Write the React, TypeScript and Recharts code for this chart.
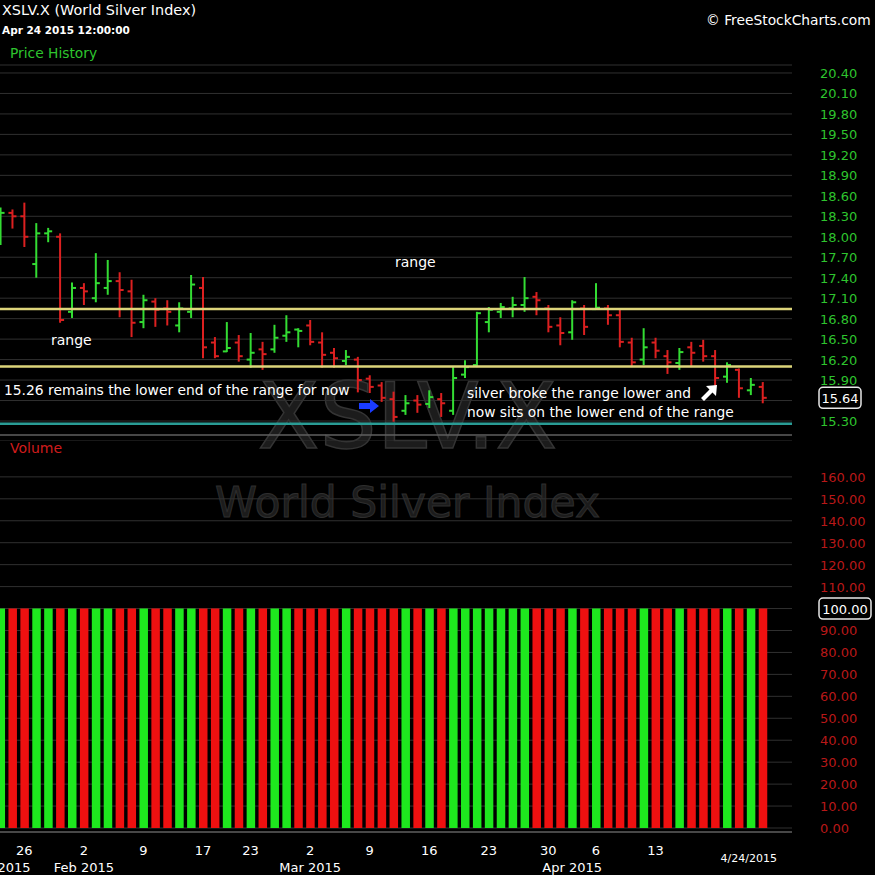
import React from "react";
import {
  ComposedChart,
  Bar,
  XAxis,
  YAxis,
  CartesianGrid,
  ReferenceLine,
  Cell
} from "recharts";

// trading days, Jan 22 2015 .. Apr 24 2015
const dates = [
  "2015-01-22", "2015-01-23", "2015-01-26", "2015-01-27", "2015-01-28", "2015-01-29", "2015-01-30",
  "2015-02-02", "2015-02-03", "2015-02-04", "2015-02-05", "2015-02-06",
  "2015-02-09", "2015-02-10", "2015-02-11", "2015-02-12", "2015-02-13",
  "2015-02-17", "2015-02-18", "2015-02-19", "2015-02-20",
  "2015-02-23", "2015-02-24", "2015-02-25", "2015-02-26", "2015-02-27",
  "2015-03-02", "2015-03-03", "2015-03-04", "2015-03-05", "2015-03-06",
  "2015-03-09", "2015-03-10", "2015-03-11", "2015-03-12", "2015-03-13",
  "2015-03-16", "2015-03-17", "2015-03-18", "2015-03-19", "2015-03-20",
  "2015-03-23", "2015-03-24", "2015-03-25", "2015-03-26", "2015-03-27",
  "2015-03-30", "2015-03-31", "2015-04-01", "2015-04-02",
  "2015-04-06", "2015-04-07", "2015-04-08", "2015-04-09", "2015-04-10",
  "2015-04-13", "2015-04-14", "2015-04-15", "2015-04-16", "2015-04-17",
  "2015-04-20", "2015-04-21", "2015-04-22", "2015-04-23", "2015-04-24"
];

const opens = [
  18.00, 18.35, 18.30, 17.60, 18.05, 18.00, 16.90,
  17.25, 17.10, 17.25, 17.35, 17.20,
  16.75, 17.05, 16.95, 16.70, 16.90,
  17.25, 16.45, 16.32, 16.45,
  16.20, 16.35, 16.35, 16.55, 16.64,
  16.70, 16.45, 16.30, 16.18, 16.20,
  15.92, 15.82, 15.62, 15.45, 15.60,
  15.55, 15.62, 15.45, 15.98, 16.12,
  16.75, 16.90, 16.95, 17.00, 17.12,
  16.95, 16.70, 16.60, 16.95,
  16.94, 16.95, 16.85, 16.45, 16.20,
  16.45, 16.25, 16.15, 16.38, 16.40,
  16.25, 15.95, 16.05, 15.75, 15.80
];

const highs = [
  18.43, 18.40, 18.50, 18.20, 18.13, 18.05, 17.33,
  17.32, 17.76, 17.66, 17.48, 17.37,
  17.15, 17.10, 17.07, 17.04, 17.44,
  17.41, 16.53, 16.75, 16.56,
  16.59, 16.46, 16.71, 16.85, 16.66,
  16.78, 16.60, 16.37, 16.34, 16.24,
  15.97, 15.87, 15.73, 15.68, 15.68,
  15.75, 15.71, 16.09, 16.19, 16.90,
  16.97, 17.03, 17.12, 17.41, 17.19,
  17.00, 16.82, 17.07, 17.00,
  17.32, 17.00, 16.93, 16.52, 16.66,
  16.52, 16.34, 16.37, 16.46, 16.49,
  16.34, 16.16, 16.07, 15.93, 15.87
];

const lows = [
  17.88, 18.12, 17.85, 17.40, 17.92, 16.74, 16.81,
  17.00, 17.04, 17.15, 16.82, 16.53,
  16.66, 16.68, 16.70, 16.60, 16.81,
  16.22, 16.22, 16.31, 16.17,
  16.08, 16.05, 16.30, 16.46, 16.38,
  16.41, 16.08, 16.08, 16.12, 15.72,
  15.71, 15.58, 15.29, 15.39, 15.42,
  15.49, 15.36, 15.39, 15.93, 16.09,
  16.60, 16.81, 16.82, 16.90, 16.85,
  16.60, 16.41, 16.49, 16.56,
  16.93, 16.71, 16.38, 16.09, 16.12,
  16.22, 15.99, 16.05, 16.09, 16.17,
  15.80, 15.86, 15.64, 15.68, 15.56
];

const closes = [
  18.35, 18.30, 18.00, 18.05, 18.08, 16.78, 17.25,
  17.20, 17.32, 17.35, 17.22, 16.74,
  17.07, 16.93, 16.90, 16.95, 17.30,
  16.38, 16.25, 16.37, 16.25,
  16.30, 16.28, 16.52, 16.60, 16.62,
  16.46, 16.27, 16.22, 16.24, 15.90,
  15.80, 15.64, 15.36, 15.56, 15.54,
  15.65, 15.56, 15.93, 16.09, 16.88,
  16.93, 16.97, 17.00, 17.10, 17.07,
  16.68, 16.59, 17.04, 16.68,
  16.96, 16.85, 16.46, 16.16, 16.38,
  16.33, 16.16, 16.31, 16.30, 16.25,
  15.93, 16.12, 15.78, 15.83, 15.64
];

const volumes = [
  100, 100, 100, 100, 100, 100, 100, 100, 100, 100, 100, 100, 100,
  100, 100, 100, 100, 100, 100, 100, 100, 100, 100, 100, 100, 100,
  100, 100, 100, 100, 100, 100, 100, 100, 100, 100, 100, 100, 100,
  100, 100, 100, 100, 100, 100, 100, 100, 100, 100, 100, 100, 100,
  100, 100, 100, 100, 100, 100, 100, 100, 100, 100, 100, 100, 100
];

const priceTicks = [
  15.3, 15.6, 15.9, 16.2, 16.5, 16.8, 17.1, 17.4, 17.7,
  18.0, 18.3, 18.6, 18.9, 19.2, 19.5, 19.8, 20.1, 20.4
];
const volumeTicks = [0, 10, 20, 30, 40, 50, 60, 70, 80, 90, 100, 110, 120, 130, 140, 150, 160];

// week starts (index in dates, 65 = next monday)
const weekGrid = [2, 7, 12, 17, 21, 26, 31, 36, 41, 46, 50, 55, 60, 65];
const dayLabels: [number, string][] = [
  [2, "26"], [7, "2"], [12, "9"], [17, "17"], [21, "23"], [26, "2"],
  [31, "9"], [36, "16"], [41, "23"], [46, "30"], [50, "6"], [55, "13"]
];
const monthLabels: [number, string][] = [
  [0, "Jan 2015"], [7, "Feb 2015"], [26, "Mar 2015"], [48, "Apr 2015"]
];
const lastDateLabel = "4/24/2015";

const rangeLevels = [16.94, 16.10];
const supportLevel = 15.26;

const GREEN = "#33dc33";
const RED = "#dc2020";
const VOL_GREEN = "#1ee81e";
const VOL_RED = "#ee1010";
const FONT = "'DejaVu Sans', Verdana, sans-serif";

const rows = dates.map((d, i) => ({
  i,
  date: d,
  open: opens[i],
  high: highs[i],
  low: lows[i],
  close: closes[i],
  range: [lows[i], highs[i]],
  volume: volumes[i],
  up: i === 0 ? closes[i] >= opens[i] : closes[i] >= closes[i - 1],
  volUp: closes[i] >= opens[i]
}));

const lastIndex = rows.length - 1;
const lastClose = closes[lastIndex];
const lastVolume = volumes[lastIndex];
const xDomain = [-0.042, 66.46];

const dayMap = new Map(dayLabels);
const monthMap = new Map(monthLabels);
const dateTicks = Array.from(
  new Set([...dayLabels.map(d => d[0]), ...monthLabels.map(m => m[0]), lastIndex])
).sort((a, b) => a - b);

const OhlcShape = (props: any) => {
  const {x, y, width, height, payload} = props;
  const top = Math.min(y, y + height);
  const h = Math.abs(height);
  const cx = x + width / 2;
  const ppu = h / (payload.high - payload.low || 1);
  const oy = top + (payload.high - payload.open) * ppu;
  const cy = top + (payload.high - payload.close) * ppu;
  const c = payload.up ? GREEN : RED;
  return (
    <g stroke={c} strokeWidth={2}>
      <line x1={cx} x2={cx} y1={top} y2={top + h}/>
      <line x1={cx - 4} x2={cx} y1={oy} y2={oy}/>
      <line x1={cx} x2={cx + 4} y1={cy} y2={cy}/>
    </g>
  );
};

const gridX = (props: any) => {
  const scale = props.xAxis && props.xAxis.scale;
  if (typeof scale !== "function") return [];
  return weekGrid.map(i => scale(i));
};

const PriceTick = (props: any) => {
  const {x, y, payload} = props;
  if (Math.abs(payload.value - lastClose) < 0.1) return null;
  return (
    <text x={x} y={y} dy={5} fill="#2ec42e" fontSize={13} fontFamily={FONT} textAnchor="start">
      {payload.value.toFixed(2)}
    </text>
  );
};

const VolumeTick = (props: any) => {
  const {x, y, payload} = props;
  if (Math.abs(payload.value - lastVolume) < 1) return null;
  return (
    <text x={x} y={y} dy={5} fill="#b81818" fontSize={13} fontFamily={FONT} textAnchor="start">
      {payload.value.toFixed(2)}
    </text>
  );
};

const ValueBox = (text: string, w: number) => (props: any) => {
  const vb = props.viewBox || {};
  const bx = vb.x + vb.width + 27;
  const by = vb.y;
  return (
    <g>
      <rect x={bx} y={by - 10.5} width={w} height={21} rx={4} fill="#000" stroke="#e8e8e8" strokeWidth={1.5}/>
      <text x={bx + w / 2} y={by + 5} fill="#fff" fontSize={13} fontFamily={FONT} textAnchor="middle">
        {text}
      </text>
    </g>
  );
};

const DateTick = (props: any) => {
  const {x, y, payload} = props;
  const v = payload.value;
  const day = dayMap.get(v);
  const month = monthMap.get(v);
  return (
    <g fill="#fff" fontFamily={FONT}>
      {day && <text x={x} y={y + 23} fontSize={13} textAnchor="middle">{day}</text>}
      {month && (
        <text x={v === 0 ? x + 30 : x} y={y + 40} fontSize={13} textAnchor={v === 0 ? "end" : "middle"}>
          {month}
        </text>
      )}
      {v === lastIndex && (
        <text x={x - 14} y={y + 30} fontSize={11} textAnchor="middle">{lastDateLabel}</text>
      )}
    </g>
  );
};

const txt = (left: number, top: number, text: string, extra: React.CSSProperties = {}) => (
  <div style={{position: "absolute", left, top, color: "#fff", fontSize: 14, whiteSpace: "nowrap", ...extra}}>
    {text}
  </div>
);

const App = () => {
  return (
    <div style={{
      position: "absolute", left: 0, top: 0, width: 875, height: 875,
      background: "#000", overflow: "hidden", fontFamily: FONT
    }}>
      {/* watermark */}
      <div style={{
        position: "absolute", left: 0, width: 815, top: 372, textAlign: "center",
        fontSize: 90, color: "#1c1c1c", WebkitTextStroke: "1.5px #343434", lineHeight: "90px"
      }}>XSLV.X</div>
      <div style={{
        position: "absolute", left: 0, width: 815, top: 480, textAlign: "center",
        fontSize: 42.5, color: "#1c1c1c", WebkitTextStroke: "1px #2e2e2e", lineHeight: "46px"
      }}>World Silver Index</div>

      <div style={{position: "absolute", left: 0, top: 0}}>
        <ComposedChart width={875} height={440} data={rows} margin={{top: 65, right: 0, left: 0, bottom: 4}}>
          <CartesianGrid stroke="#303030" verticalCoordinatesGenerator={gridX}/>
          <XAxis
            dataKey="i"
            type="number"
            domain={xDomain}
            allowDataOverflow
            ticks={weekGrid}
            tick={false}
            tickLine={false}
            height={1}
            axisLine={{stroke: "#777"}}
          />
          <YAxis
            orientation="right"
            width={83}
            type="number"
            domain={[15.095, 20.517]}
            allowDataOverflow
            ticks={priceTicks}
            interval={0}
            tick={<PriceTick/>}
            tickLine={false}
            axisLine={false}
            tickSize={0}
            tickMargin={28}
          />
          {rangeLevels.map(v => (
            <ReferenceLine key={v} y={v} stroke="#dcd47a" strokeWidth={2.5}/>
          ))}
          <ReferenceLine y={supportLevel} stroke="#2a9c95" strokeWidth={2.5}/>
          <Bar dataKey="range" barSize={8} shape={<OhlcShape/>} isAnimationActive={false}/>
          <ReferenceLine y={lastClose} stroke="none" label={ValueBox(lastClose.toFixed(2), 42)}/>
        </ComposedChart>
      </div>

      <div style={{position: "absolute", left: 0, top: 440}}>
        <ComposedChart width={875} height={435} data={rows} margin={{top: 0, right: 0, left: 0, bottom: 0}}>
          <CartesianGrid stroke="#303030" verticalCoordinatesGenerator={gridX}/>
          <XAxis
            dataKey="i"
            type="number"
            domain={xDomain}
            allowDataOverflow
            ticks={dateTicks}
            interval={0}
            tick={<DateTick/>}
            tickLine={false}
            tickSize={0}
            tickMargin={0}
            height={43}
            axisLine={{stroke: "#777"}}
          />
          <YAxis
            orientation="right"
            width={83}
            type="number"
            domain={[-1.82, 176.8]}
            allowDataOverflow
            ticks={volumeTicks}
            interval={0}
            tick={<VolumeTick/>}
            tickLine={false}
            axisLine={false}
            tickSize={0}
            tickMargin={28}
          />
          <Bar dataKey="volume" barSize={8.5} isAnimationActive={false}>
            {rows.map(r => (
              <Cell key={r.i} fill={r.volUp ? VOL_GREEN : VOL_RED}/>
            ))}
          </Bar>
          <ReferenceLine y={lastVolume} stroke="none" label={ValueBox(lastVolume.toFixed(2), 52)}/>
        </ComposedChart>
      </div>

      {/* header */}
      {txt(2, 2, "XSLV.X (World Silver Index)", {fontSize: 14.4})}
      {txt(2, 24, "Apr 24 2015 12:00:00", {fontSize: 10.5, fontWeight: "bold"})}
      {txt(10, 45, "Price History", {fontSize: 13.8, color: "#2ec42e"})}
      {txt(706, 12, "\u00a9 FreeStockCharts.com", {fontSize: 13.8})}
      {txt(10, 440, "Volume", {fontSize: 14, color: "#d01c1c"})}

      {/* annotations */}
      {txt(51, 332, "range")}
      {txt(395, 254, "range")}
      {txt(4, 382, "15.26 remains the lower end of the range for now", {fontSize: 13.85})}
      {txt(467, 385, "silver broke the range lower and", {fontSize: 13.8})}
      {txt(467, 404, "now sits on the lower end of the range", {fontSize: 13.8})}

      <svg style={{position: "absolute", left: 358, top: 398}} width={22} height={16}>
        <path d="M1 5 H12 V1 L21 8 L12 15 V11 H1 Z" fill="#1a3cff"/>
      </svg>
      <svg style={{position: "absolute", left: 698, top: 383}} width={22} height={22}>
        <path d="M19 2 L18 13 L14.5 9.5 L6 18 L3 15 L11.5 6.5 L8 3 Z" fill="#fff"/>
      </svg>
    </div>
  );
};

export default App;
